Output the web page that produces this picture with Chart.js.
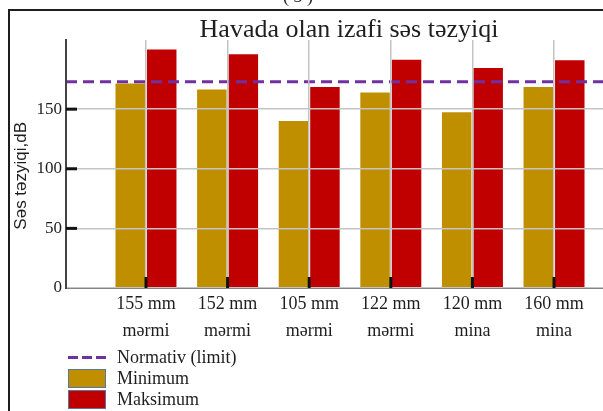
<!DOCTYPE html>
<html lang="az">
<head>
<meta charset="utf-8">
<title>Havada olan izafi səs təzyiqi</title>
<script src="https://cdn.jsdelivr.net/npm/chart.js@4.4.1/dist/chart.umd.min.js"></script>
<style>
    html, body { margin: 0; padding: 0; background: #fff; }
    #wrap { position: relative; width: 603px; height: 411px; overflow: hidden; background: #fff; }
    #chart { position: absolute; left: 0; top: 0; }
    .frame { position: absolute; left: 8px; top: 9px; width: 620px; height: 420px;
             border-top: 2px solid #1e1e1e; border-left: 2px solid #1e1e1e; }
    .fig-no { position: absolute; left: 283px; top: -14px; font: 18px "Liberation Serif", serif; color: #222; white-space: pre; }
    .title { position: absolute; left: 349px; top: 15px; transform: translateX(-50%);
             font: 26px "Liberation Serif", serif; color: #1e1e1e; white-space: nowrap; line-height: 28px; }
    .legend { position: absolute; left: 68px; top: 347px; font: 18px "Liberation Serif", serif; color: #1e1e1e; }
    .legend .row { display: flex; align-items: center; height: 21px; }
    .legend .sw { width: 38px; height: 19px; margin-right: 11px; box-sizing: border-box; }
    .legend .box { border: 1.5px solid #5a76a0; }
    .legend .dash { height: 3px; background: repeating-linear-gradient(90deg, #7030a0 0 10px, transparent 10px 14px); }
</style>
</head>
<body>
<div id="wrap">
    <canvas id="chart" width="603" height="411"></canvas>
    <div class="frame"></div>
    <div class="fig-no">( 3 )</div>
    <div class="title">Havada olan izafi səs təzyiqi</div>
    <div class="legend" id="legend"></div>
</div>
<script>
// --- data ---
const categories = [
    ['155 mm', 'mərmi'],
    ['152 mm', 'mərmi'],
    ['105 mm', 'mərmi'],
    ['122 mm', 'mərmi'],
    ['120 mm', 'mina'],
    ['160 mm', 'mina']
];
const minValues = [171.5, 166.5, 140, 164, 147.5, 168.5];
const maxValues = [200, 196, 168.5, 191.5, 184.5, 191];
const limitValue = 173;
const yTicks = [0, 50, 100, 150];

const seriesNames = ['Normativ (limit)', 'Minimum', 'Maksimum'];
const colLimit = '#7030a0';
const colMin = '#bf8f00';
const colMax = '#c00000';

// x axis runs a bit past the categories on both ends, as in the picture
const xMin = -0.98;
const xMax = 5.6;

const serif = '"Liberation Serif", "Times New Roman", serif';

// small black tick marks drawn inside the plot, like the original
const innerTicks = {
    id: 'innerTicks',
    afterDraw(chart) {
        const { ctx, chartArea, scales: { x, y } } = chart;
        ctx.save();
        ctx.fillStyle = '#111';
        yTicks.forEach(v => {
            if (v === 0) return;
            const py = y.getPixelForValue(v);
            ctx.fillRect(chartArea.left, py - 1.5, 11, 3);
        });
        categories.forEach((c, i) => {
            const px = x.getPixelForValue(i);
            ctx.fillRect(px - 1.5, chartArea.bottom - 11, 3, 11);
        });
        ctx.restore();
    }
};

const ctx = document.getElementById('chart');

new Chart(ctx, {
    type: 'bar',
    data: {
        datasets: [
            {
                type: 'line',
                label: seriesNames[0],
                data: [{ x: xMin, y: limitValue }, { x: xMax, y: limitValue }],
                borderColor: colLimit,
                borderWidth: 3,
                borderDash: [11, 6],
                pointRadius: 0,
                fill: false
            },
            {
                label: seriesNames[1],
                data: minValues.map((v, i) => ({ x: i, y: v })),
                backgroundColor: colMin
            },
            {
                label: seriesNames[2],
                data: maxValues.map((v, i) => ({ x: i, y: v })),
                backgroundColor: colMax
            }
        ]
    },
    options: {
        responsive: false,
        animation: false,
        categoryPercentage: 0.772,
        barPercentage: 0.936,
        layout: { padding: { left: 8, top: 40, right: 0, bottom: 0 } },
        plugins: {
            legend: { display: false },
            tooltip: { enabled: false },
            title: { display: false }
        },
        scales: {
            x: {
                type: 'linear',
                offset: false,
                min: xMin,
                max: xMax,
                afterBuildTicks: (scale) => { scale.ticks = categories.map((c, i) => ({ value: i })); },
                afterFit: (scale) => { scale.height = 123; },
                grid: { offset: false, color: '#c4c4c4', lineWidth: 1.5, drawTicks: false, z: 1 },
                border: { color: '#444', width: 2, z: 1 },
                ticks: {
                    padding: 3,
                    color: '#1e1e1e',
                    font: { family: serif, size: 18, lineHeight: 1.5 },
                    callback: (v) => categories[v] || ''
                }
            },
            y: {
                min: 0,
                max: 208,
                afterBuildTicks: (scale) => { scale.ticks = yTicks.map(v => ({ value: v })); },
                afterFit: (scale) => { scale.width = 58; },
                grid: { color: '#c4c4c4', lineWidth: 1.5, drawTicks: false, z: 1 },
                border: { color: '#444', width: 2, z: 1 },
                ticks: {
                    padding: 4,
                    color: '#1e1e1e',
                    font: { family: serif, size: 17 }
                },
                title: {
                    display: true,
                    // trailing spaces nudge the label a little lower, as in the original
                    text: 'Səs təzyiqi,dB\u00a0\u00a0\u00a0\u00a0\u00a0',
                    color: '#1e1e1e',
                    font: { family: '"Liberation Sans", Arial, sans-serif', size: 17 },
                    padding: { top: 3, bottom: 3 }
                }
            }
        }
    },
    plugins: [innerTicks]
});

// legend below the chart, one entry per line
const legend = document.getElementById('legend');
const legendItems = [
    { name: seriesNames[0], cls: 'dash', color: colLimit },
    { name: seriesNames[1], cls: 'box', color: colMin },
    { name: seriesNames[2], cls: 'box', color: colMax }
];
legendItems.forEach(item => {
    const row = document.createElement('div');
    row.className = 'row';
    const sw = document.createElement('span');
    sw.className = 'sw ' + item.cls;
    if (item.cls === 'box') sw.style.backgroundColor = item.color;
    const txt = document.createElement('span');
    txt.textContent = item.name;
    row.appendChild(sw);
    row.appendChild(txt);
    legend.appendChild(row);
});
</script>
</body>
</html>
